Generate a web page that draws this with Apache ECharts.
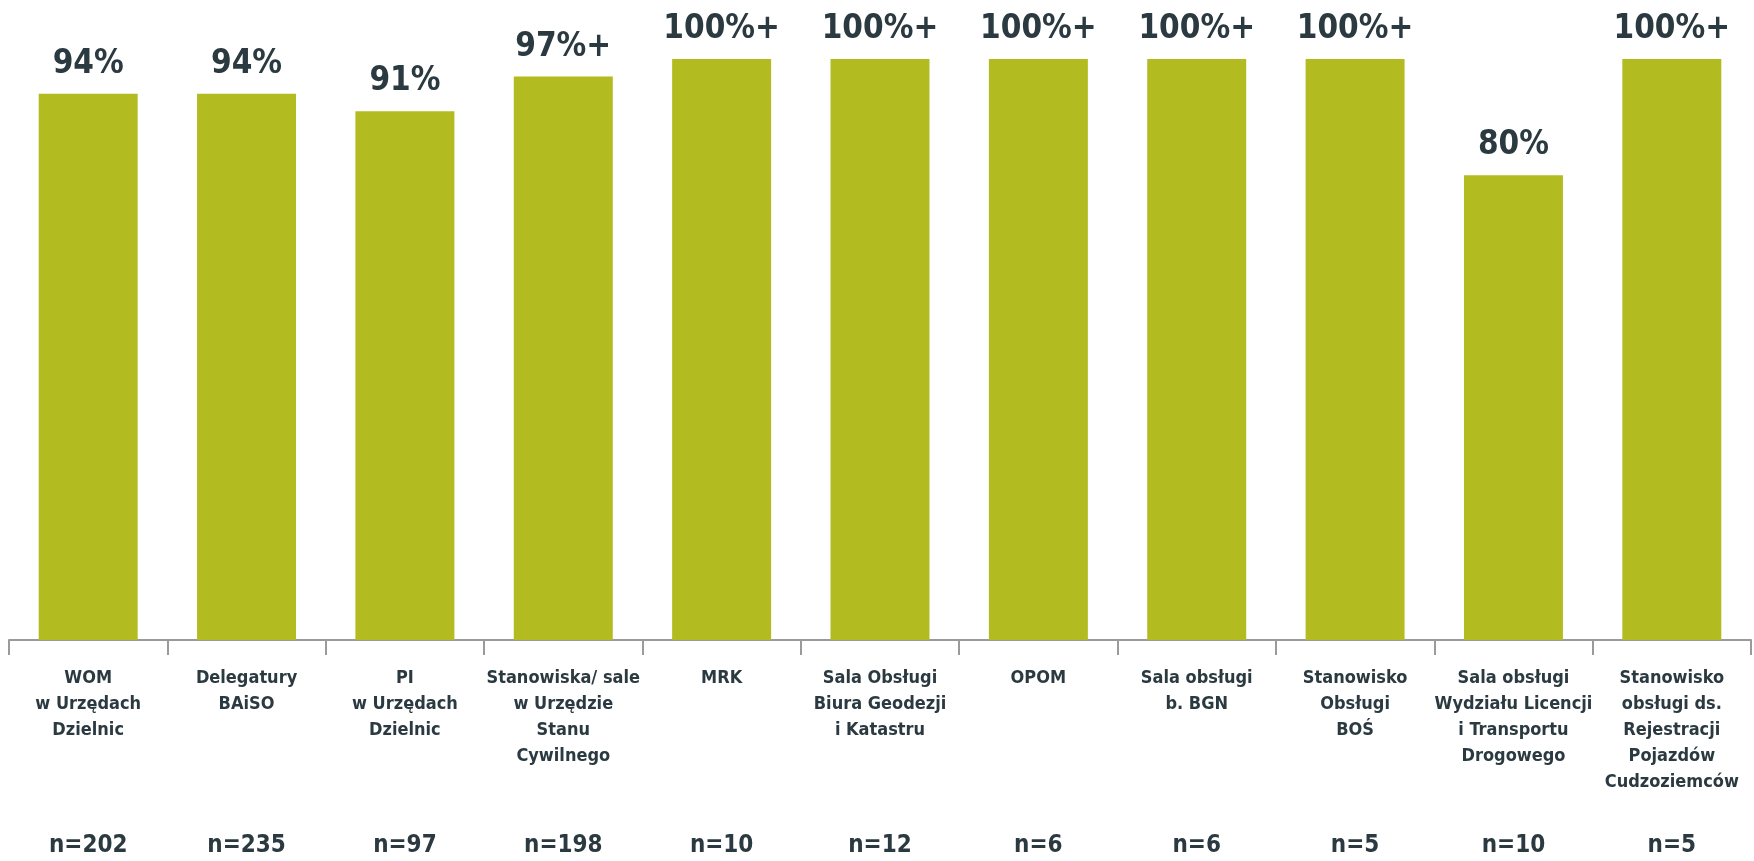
<!DOCTYPE html>
<html>
<head>
<meta charset="utf-8">
<script src="https://cdn.jsdelivr.net/npm/echarts@6/dist/echarts.min.js"></script>
<style>
  html, body { margin: 0; padding: 0; background: #ffffff; }
  #chart { width: 1754px; height: 861px; }
</style>
</head>
<body>
<div id="chart"></div>
<script>
// Categories (multi-line names of the service points)
const categories = [
  'WOM\nw Urzędach\nDzielnic',
  'Delegatury\nBAiSO',
  'PI\nw Urzędach\nDzielnic',
  'Stanowiska/ sale\nw Urzędzie\nStanu\nCywilnego',
  'MRK',
  'Sala Obsługi\nBiura Geodezji\ni Katastru',
  'OPOM',
  'Sala obsługi\nb. BGN',
  'Stanowisko\nObsługi\nBOŚ',
  'Sala obsługi\nWydziału Licencji\ni Transportu\nDrogowego',
  'Stanowisko\nobsługi ds.\nRejestracji\nPojazdów\nCudzoziemców'
];

// Percentage values
const values = [94, 94, 91, 97, 100, 100, 100, 100, 100, 80, 100];

// Suffix shown after the percentage
const suffixes = ['', '', '', '+', '+', '+', '+', '+', '+', '', '+'];

// Sample sizes
const sampleSizes = ['n=202', 'n=235', 'n=97', 'n=198', 'n=10', 'n=12', 'n=6', 'n=6', 'n=5', 'n=10', 'n=5'];

const FONT = '"Liberation Sans Narrow", "DejaVu Sans Condensed", "Liberation Sans", sans-serif';
const TEXT = '#2b3a40';

const chart = echarts.init(document.getElementById('chart'), null, { renderer: 'canvas' });

chart.setOption({
  animation: false,
  backgroundColor: '#ffffff',
  grid: { left: 9, right: 3, top: 59, bottom: 218, containLabel: false },
  xAxis: [
    {
      type: 'category',
      data: categories,
      position: 'bottom',
      axisLine: { show: true, lineStyle: { color: '#9a9a9a', width: 2 } },
      axisTick: { show: true, interval: 0, length: 15, lineStyle: { color: '#9a9a9a', width: 2 } },
      axisLabel: {
        interval: 0,
        margin: 25,
        fontFamily: FONT,
        fontWeight: 'bold',
        fontSize: 18,
        lineHeight: 26,
        color: TEXT,
        align: 'center'
      }
    },
    {
      type: 'category',
      data: sampleSizes,
      position: 'bottom',
      offset: 183,
      axisLine: { show: false },
      axisTick: { show: false },
      axisLabel: {
        interval: 0,
        margin: 8,
        fontFamily: FONT,
        fontWeight: 'bold',
        fontSize: 24,
        lineHeight: 30,
        color: TEXT
      }
    }
  ],
  yAxis: {
    type: 'value',
    min: 0,
    max: 100,
    show: false,
    splitLine: { show: false }
  },
  series: [
    {
      type: 'bar',
      xAxisIndex: 0,
      data: values,
      barCategoryGap: '37.5%',
      itemStyle: { color: '#b2bb1f' },
      label: {
        show: true,
        position: 'top',
        distance: 13,
        fontFamily: FONT,
        fontWeight: 'bold',
        fontSize: 33,
        color: TEXT,
        formatter: p => p.value + '%' + suffixes[p.dataIndex]
      }
    }
  ]
});
</script>
</body>
</html>
